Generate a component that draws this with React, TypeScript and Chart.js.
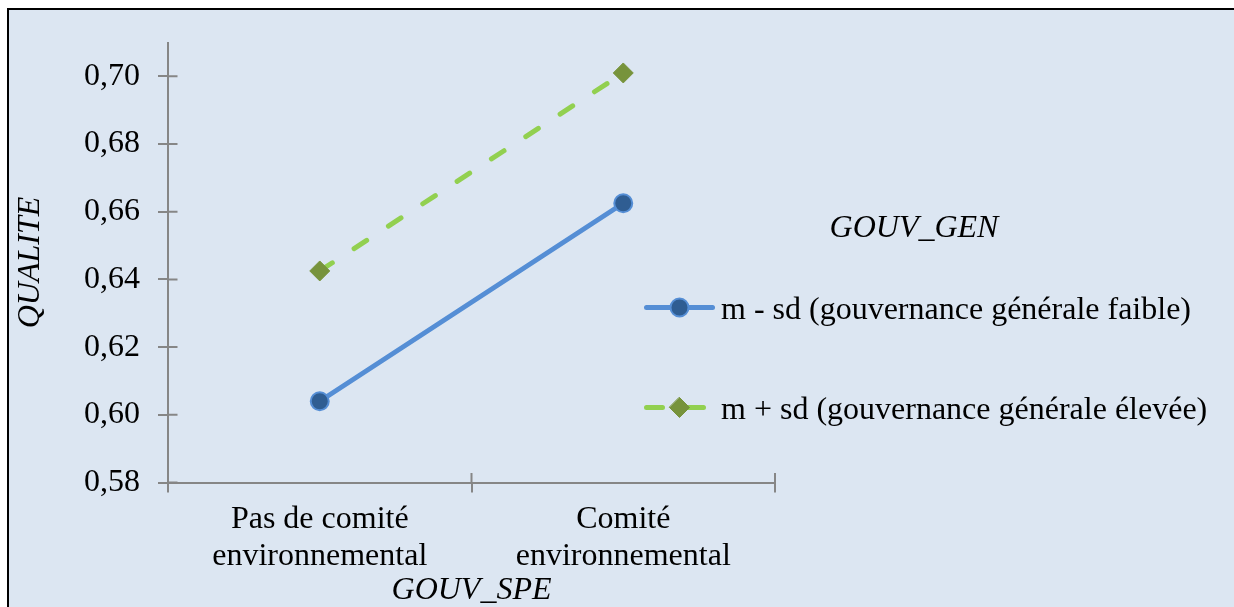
import React, { useEffect, useRef } from "react";
import { Chart, registerables } from "chart.js";

Chart.register(...registerables);

// ---- data ----
const categories: string[][] = [
  ["Pas de comité", "environnemental"],
  ["Comité", "environnemental"],
];
const lowGovValues = [0.604, 0.6625];
const highGovValues = [0.6425, 0.701];
const seriesNames = [
  "m - sd (gouvernance générale faible)",
  "m + sd (gouvernance générale élevée)",
];
const legendTitle = "GOUV_GEN";
const xAxisTitle = "GOUV_SPE";
const yAxisTitle = "QUALITE";
const yTickValues = [0.58, 0.6, 0.62, 0.64, 0.66, 0.68, 0.7];
const yMin = 0.58;
const yMax = 0.71;

// ---- styles ----
const FONT = "'Liberation Serif', 'Times New Roman', serif";
const BLUE = "#558ed5";
const DARK_BLUE = "#2f5d92";
const GREEN = "#92d050";
const OLIVE = "#77933c";
const AXIS = "#868686";
const BG = "#dce6f2";

const crossTicks = {
  id: "crossTicks",
  afterDraw(chart: any) {
    const { ctx, chartArea } = chart;
    const xs = chart.scales.x;
    const ys = chart.scales.y;
    ctx.save();
    ctx.strokeStyle = AXIS;
    ctx.lineWidth = 2;
    ctx.beginPath();
    ys.ticks.forEach((t: any) => {
      const y = ys.getPixelForValue(t.value);
      ctx.moveTo(chartArea.left, y);
      ctx.lineTo(chartArea.left + 9.5, y);
    });
    const n = chart.data.labels.length;
    for (let i = 0; i <= n; i++) {
      const x = xs.getPixelForValue(i - 0.5);
      ctx.moveTo(x, chartArea.bottom);
      ctx.lineTo(x, chartArea.bottom - 9.5);
    }
    ctx.stroke();
    ctx.restore();
  },
};

const customLegend = {
  id: "customLegend",
  afterDraw(chart: any) {
    const { ctx } = chart;
    ctx.save();
    ctx.fillStyle = "#000";
    ctx.textBaseline = "alphabetic";
    ctx.textAlign = "center";
    ctx.font = `italic 32px ${FONT}`;
    ctx.fillText(legendTitle, 914, 237);
    const rows = [307.5, 407.5];
    chart.data.datasets.forEach((ds: any, i: number) => {
      const y = rows[i];
      const dashed = !!(ds.borderDash && ds.borderDash.length);
      // line
      ctx.strokeStyle = ds.borderColor;
      ctx.lineWidth = ds.borderWidth;
      ctx.lineCap = "round";
      ctx.setLineDash(dashed ? [16, 25] : []);
      ctx.beginPath();
      ctx.moveTo(646.5, y);
      ctx.lineTo(dashed ? 703.5 : 712.5, y);
      ctx.stroke();
      ctx.setLineDash([]);
      // marker
      const cx = 679.5;
      const r = ds.pointRadius;
      ctx.fillStyle = ds.pointBackgroundColor;
      ctx.strokeStyle = ds.pointBorderColor;
      ctx.lineWidth = ds.pointBorderWidth;
      ctx.beginPath();
      if (ds.pointStyle === "rectRot") {
        ctx.moveTo(cx, y - r);
        ctx.lineTo(cx + r, y);
        ctx.lineTo(cx, y + r);
        ctx.lineTo(cx - r, y);
        ctx.closePath();
      } else {
        ctx.arc(cx, y, r, 0, Math.PI * 2);
      }
      ctx.fill();
      ctx.stroke();
      // text
      ctx.fillStyle = "#000";
      ctx.textAlign = "left";
      ctx.font = `32px ${FONT}`;
      ctx.fillText(ds.label, 721, y + 11);
    });
    ctx.restore();
  },
};

export default function App() {
  const ref = useRef<HTMLCanvasElement | null>(null);

  useEffect(() => {
    if (!ref.current) return;
    Chart.defaults.font.family = FONT;
    const chart = new Chart(ref.current, {
      type: "line",
      data: {
        labels: categories as any,
        datasets: [
          {
            label: seriesNames[0],
            data: lowGovValues,
            borderColor: BLUE,
            borderWidth: 5,
            borderCapStyle: "round",
            pointStyle: "circle",
            pointRadius: 9,
            pointBackgroundColor: DARK_BLUE,
            pointBorderColor: BLUE,
            pointBorderWidth: 2,
            fill: false,
          } as any,
          {
            label: seriesNames[1],
            data: highGovValues,
            borderColor: GREEN,
            borderWidth: 5,
            borderCapStyle: "round",
            borderDash: [15, 26],
            pointStyle: "rectRot",
            pointRadius: 10,
            pointBackgroundColor: OLIVE,
            pointBorderColor: OLIVE,
            pointBorderWidth: 1,
            fill: false,
          } as any,
        ],
      },
      options: {
        responsive: false,
        animation: false,
        layout: { padding: { top: 42.5, right: 459, left: 0, bottom: 0 } },
        plugins: {
          legend: { display: false },
          tooltip: { enabled: false },
        },
        scales: {
          x: {
            offset: true,
            grid: {
              offset: true,
              drawOnChartArea: false,
              drawTicks: true,
              tickLength: 10,
              color: AXIS,
              lineWidth: 2,
            },
            border: { color: AXIS, width: 2 },
            ticks: {
              color: "#000",
              font: { size: 32, lineHeight: 1.15 },
              padding: 9,
              maxRotation: 0,
              autoSkip: false,
            },
            title: {
              display: true,
              text: xAxisTitle,
              color: "#000",
              font: { size: 32, style: "italic", lineHeight: 1 },
              padding: { top: -4, bottom: 0 },
            },
            afterFit(s: any) {
              s.height = 124.5;
            },
          },
          y: {
            min: yMin,
            max: yMax,
            ticks: {
              color: "#000",
              font: { size: 32 },
              padding: 18,
              callback: (v: any) => Number(v).toFixed(2).replace(".", ","),
            },
            grid: {
              drawOnChartArea: false,
              tickLength: 10,
              color: AXIS,
              lineWidth: 2,
            },
            border: { color: AXIS, width: 2 },
            title: {
              display: true,
              text: yAxisTitle,
              color: "#000",
              font: { size: 32, style: "italic", lineHeight: 1 },
              padding: { top: 15, bottom: 0 },
            },
            afterFit(s: any) {
              s.width = 168;
            },
            afterBuildTicks(s: any) {
              s.ticks = yTickValues.map((v) => ({ value: v }));
            },
          },
        },
      },
      plugins: [crossTicks, customLegend],
    });
    return () => chart.destroy();
  }, []);

  return (
    <div style={{ position: "absolute", left: 0, top: 0, width: 1234, height: 607, overflow: "hidden" }}>
      <div
        style={{
          position: "absolute",
          left: 7,
          top: 8,
          right: 0,
          bottom: 0,
          background: BG,
          borderLeft: "2px solid #000",
          borderTop: "2px solid #000",
        }}
      />
      <canvas
        ref={ref}
        width={1234}
        height={607}
        style={{ position: "absolute", left: 0, top: 0, width: 1234, height: 607 }}
      />
    </div>
  );
}
